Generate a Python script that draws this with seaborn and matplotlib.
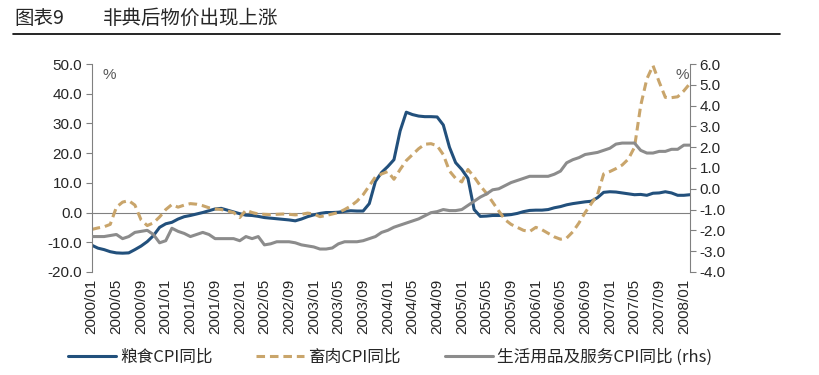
import seaborn as sns
import matplotlib.pyplot as plt
import matplotlib.lines as mlines
import pandas as pd

# monthly data, 2000/01 .. 2008/02
food = [-11.0, -12.0, -12.5, -13.2, -13.6, -13.7, -13.6, -12.5, -11.3, -9.8,
        -7.8, -5.0, -3.8, -3.3, -2.2, -1.4, -1.0, -0.5, 0.0, 0.6,
        1.2, 1.4, 0.8, 0.2, -0.4, -0.9, -1.0, -1.3, -1.7, -1.9,
        -2.1, -2.3, -2.5, -2.8, -2.2, -1.4, -0.8, -0.3, 0.0, 0.0,
        0.1, 0.4, 0.6, 0.5, 0.5, 3.0, 10.5, 13.5, 15.5, 17.8,
        27.5, 33.8, 33.0, 32.5, 32.3, 32.3, 32.2, 29.5, 22.0, 16.8,
        14.5, 11.5, 1.0, -1.3, -1.2, -1.0, -1.0, -0.9, -0.7, -0.3,
        0.3, 0.7, 0.8, 0.8, 1.0, 1.6, 2.0, 2.6, 3.0, 3.3,
        3.6, 3.8, 5.0, 6.8, 7.0, 6.9, 6.6, 6.3, 6.0, 6.1,
        5.8, 6.5, 6.6, 7.0, 6.6, 5.8, 5.8, 6.0]

meat = [-5.7, -5.2, -4.8, -4.0, 1.8, 3.5, 4.0, 2.5, -2.5, -4.4,
        -3.5, -1.5, 1.0, 2.7, 1.8, 2.5, 3.0, 2.8, 2.3, 1.6,
        1.2, 1.0, 0.5, 0.0, -1.7, 0.8, 0.0, -0.5, -0.6, -0.7,
        -0.6, -0.5, -0.6, -0.8, -0.6, -0.2, -0.5, -1.4, -1.0, -0.5,
        0.0, 1.0, 2.2, 3.8, 6.0, 9.0, 12.0, 13.0, 13.8, 11.2,
        14.5, 17.5, 19.5, 21.5, 23.0, 23.2, 22.5, 19.5, 14.0, 11.5,
        10.3, 14.5, 12.0, 9.0, 6.5, 3.5, 0.5, -2.4, -4.0, -5.0,
        -6.0, -6.4, -5.0, -5.8, -7.0, -8.2, -9.0, -8.6, -6.5, -3.5,
        0.0, 3.0, 6.0, 13.0, 13.8, 14.8, 16.0, 18.0, 22.0, 36.0,
        45.0, 49.5, 44.0, 38.8, 38.7, 39.0, 41.0, 43.5]

goods = [-2.3, -2.3, -2.3, -2.25, -2.2, -2.4, -2.3, -2.1, -2.05, -2.0,
         -2.2, -2.6, -2.5, -1.9, -2.05, -2.15, -2.3, -2.2, -2.1, -2.2,
         -2.4, -2.4, -2.4, -2.4, -2.5, -2.3, -2.4, -2.3, -2.7, -2.65,
         -2.55, -2.55, -2.55, -2.6, -2.7, -2.75, -2.8, -2.9, -2.9, -2.85,
         -2.65, -2.55, -2.55, -2.55, -2.5, -2.4, -2.3, -2.1, -2.0, -1.85,
         -1.75, -1.65, -1.55, -1.45, -1.3, -1.15, -1.1, -1.0, -1.05, -1.05,
         -1.0, -0.8, -0.6, -0.4, -0.25, -0.05, 0.0, 0.15, 0.3, 0.4,
         0.5, 0.6, 0.6, 0.6, 0.6, 0.7, 0.85, 1.25, 1.4, 1.5,
         1.65, 1.7, 1.75, 1.85, 1.95, 2.15, 2.2, 2.2, 2.2, 1.85,
         1.72, 1.72, 1.8, 1.8, 1.9, 1.9, 2.1, 2.1]

tick_labels = ['2000/01', '2000/05', '2000/09', '2001/01', '2001/05', '2001/09',
               '2002/01', '2002/05', '2002/09', '2003/01', '2003/05', '2003/09',
               '2004/01', '2004/05', '2004/09', '2005/01', '2005/05', '2005/09',
               '2006/01', '2006/05', '2006/09', '2007/01', '2007/05', '2007/09',
               '2008/01']

df = pd.DataFrame({'m': range(len(food)), 'food': food, 'meat': meat, 'goods': goods})

BLUE = '#22507C'
TAN = '#C9A56B'
GREY = '#8C8C8C'
AX = '#808080'
CJK = ['Noto Sans CJK SC', 'DejaVu Sans']

sns.set_style('white')
plt.rcParams['font.family'] = ['Liberation Sans', 'Noto Sans CJK SC', 'DejaVu Sans']
plt.rcParams['axes.unicode_minus'] = False

fig = plt.figure(figsize=(8.19, 3.75), dpi=100)
ax = fig.add_axes([0.112, 0.275, 0.7305, 0.554])
ax2 = ax.twinx()

sns.lineplot(data=df, x='m', y='food', ax=ax, color=BLUE, lw=2.2, label='粮食CPI同比', legend=False)
sns.lineplot(data=df, x='m', y='meat', ax=ax, color=TAN, lw=2.2, label='畜肉CPI同比', legend=False)
ax.lines[-1].set_dashes([2.8, 1.6])
sns.lineplot(data=df, x='m', y='goods', ax=ax2, color=GREY, lw=2.2, label='生活用品及服务CPI同比 (rhs)', legend=False)

ax.set_xlim(0, len(food) - 1)
ax.set_ylim(-20, 50)
ax2.set_ylim(-4, 6)
ax.set_yticks(range(-20, 51, 10))
ax.set_yticklabels(['%.1f' % v for v in range(-20, 51, 10)])
ax2.set_yticks(range(-4, 7))
ax2.set_yticklabels(['%.1f' % v for v in range(-4, 7)])
ax.set_xlabel('')
ax.set_ylabel('')
ax2.set_ylabel('')

for a in (ax, ax2):
    for s in a.spines.values():
        s.set_visible(False)
ax.spines['left'].set_visible(True)
ax.spines['left'].set_color(AX)
ax2.spines['right'].set_visible(True)
ax2.spines['right'].set_color(AX)
ax.spines['bottom'].set_visible(True)
ax.spines['bottom'].set_color(AX)
ax.spines['bottom'].set_position(('data', 0))
ax.spines['bottom'].set_zorder(0.5)

ax.tick_params(axis='y', direction='out', length=4, color=AX, labelsize=11, pad=3)
ax2.tick_params(axis='y', direction='out', length=4, color=AX, labelsize=11, pad=3)
ticks = list(range(0, len(food), 4))
ax.set_xticks(ticks)
ax.tick_params(axis='x', direction='out', length=4, color=AX, labelbottom=False)

sec = ax.secondary_xaxis('bottom')
sec.set_xticks(ticks, labels=tick_labels)
sec.tick_params(axis='x', length=0, labelsize=11, labelrotation=90, pad=5)
sec.spines['bottom'].set_visible(False)

ax.text(0.018, 0.947, '%', transform=ax.transAxes, color='#595959', fontsize=11, va='center')
ax.text(0.998, 0.947, '%', transform=ax.transAxes, color='#595959', fontsize=11, va='center', ha='right')

# legend: three equally spaced entries like the original
h1, l1 = ax.get_legend_handles_labels()
h2, l2 = ax2.get_legend_handles_labels()
for h, l, x in zip(h1 + h2, l1 + l2, [68, 256, 445]):
    leg = fig.legend([h], [l], loc='center left', bbox_to_anchor=(x / 819, 0.048),
                     frameon=False, borderpad=0, borderaxespad=0, handlelength=2.9,
                     handletextpad=0.25, prop={'family': CJK, 'size': 12})

fig.text(0.017, 0.952, '图表9', fontsize=14, family=CJK, va='center')
fig.text(0.126, 0.952, '非典后物价出现上涨', fontsize=14, family=CJK, va='center')
fig.add_artist(mlines.Line2D([0.016, 0.952], [0.909, 0.909], color='black', lw=1.2))

fig.savefig('out.png', dpi=100)
